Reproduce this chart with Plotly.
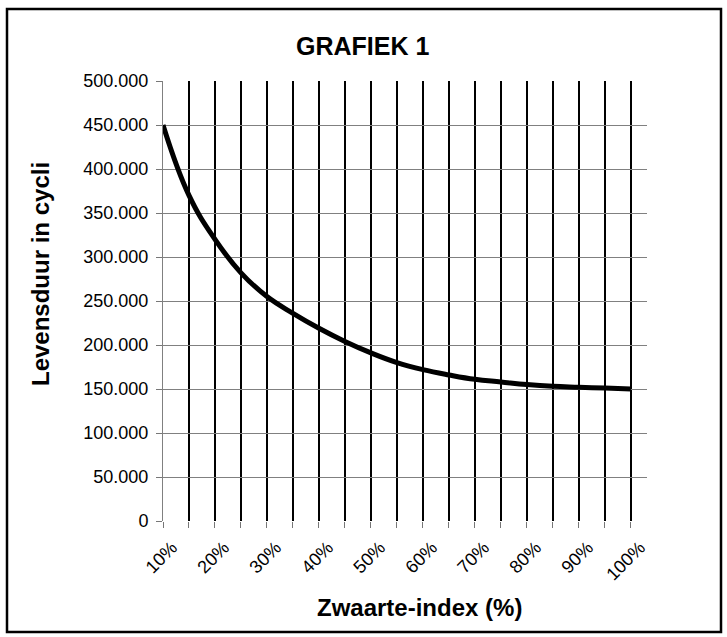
import plotly.graph_objects as go

# Zwaarte-index (%) and expected lifetime in cycles
zwaarte_index = [10, 15, 20, 25, 30, 35, 40, 45, 50, 55,
                 60, 65, 70, 75, 80, 85, 90, 95, 100]
levensduur = [450000, 370000, 320000, 282000, 255000, 236000, 219000,
              204000, 191000, 180000, 172000, 166000, 161000, 158000,
              155000, 153000, 152000, 151000, 150000]

x_tickvals = list(range(10, 101, 5))
x_ticktext = [f"{v}%" if v % 10 == 0 else "" for v in x_tickvals]
y_tickvals = list(range(0, 500001, 50000))
y_ticktext = ["0", "50.000", "100.000", "150.000", "200.000", "250.000",
              "300.000", "350.000", "400.000", "450.000", "500.000"]

FONT = "Liberation Sans, Arial, Helvetica, sans-serif"

# plot area in pixels (left, right, top, bottom)
L, R, T, B = 163, 647, 81, 521
W, H = 727, 637


def px_x(x):
    return (x - L) / (R - L)


def px_y(y):
    return (B - y) / (B - T)


fig = go.Figure()
fig.add_trace(go.Scatter(
    x=zwaarte_index, y=levensduur, mode="lines",
    line=dict(color="black", width=5, shape="spline", smoothing=1.2),
    hoverinfo="skip", showlegend=False,
))

fig.update_layout(
    width=W, height=H,
    margin=dict(l=L, r=W - R, t=T, b=H - B),
    paper_bgcolor="white", plot_bgcolor="white",
    font=dict(family=FONT, color="black"),
    xaxis=dict(
        range=[10, 103.1], tickvals=x_tickvals, ticktext=x_ticktext,
        tickangle=-45, tickfont=dict(size=18),
        ticklabelshift=9, ticklabelstandoff=2,
        showgrid=True, gridcolor="black", gridwidth=2,
        ticks="outside", ticklen=6, tickcolor="#777777", tickwidth=1,
        zeroline=False, showline=False,
    ),
    yaxis=dict(
        range=[0, 500000], tickvals=y_tickvals, ticktext=y_ticktext,
        tickfont=dict(size=18),
        showgrid=True, gridcolor="#808080", gridwidth=1,
        ticks="outside", ticklen=6, tickcolor="#777777", tickwidth=1,
        ticklabelstandoff=4,
        zeroline=False, showline=True, linecolor="#808080", linewidth=1,
    ),
    annotations=[
        dict(text="<b>GRAFIEK 1</b>", x=px_x(362), y=px_y(46),
             xref="paper", yref="paper", xanchor="center", yanchor="middle",
             showarrow=False, font=dict(size=25, family=FONT)),
        dict(text="<b>Levensduur in cycli</b>", x=px_x(40), y=px_y(274),
             xref="paper", yref="paper", xanchor="center", yanchor="middle",
             textangle=-90, showarrow=False, font=dict(size=24, family=FONT)),
        dict(text="<b>Zwaarte-index (%)</b>", x=px_x(419), y=px_y(607),
             xref="paper", yref="paper", xanchor="center", yanchor="middle",
             showarrow=False, font=dict(size=24, family=FONT)),
    ],
    shapes=[
        dict(type="rect", xref="paper", yref="paper",
             x0=px_x(7), x1=px_x(721), y0=px_y(632), y1=px_y(9),
             line=dict(color="black", width=2.5), layer="above"),
    ],
)

fig.write_html("out.html")
